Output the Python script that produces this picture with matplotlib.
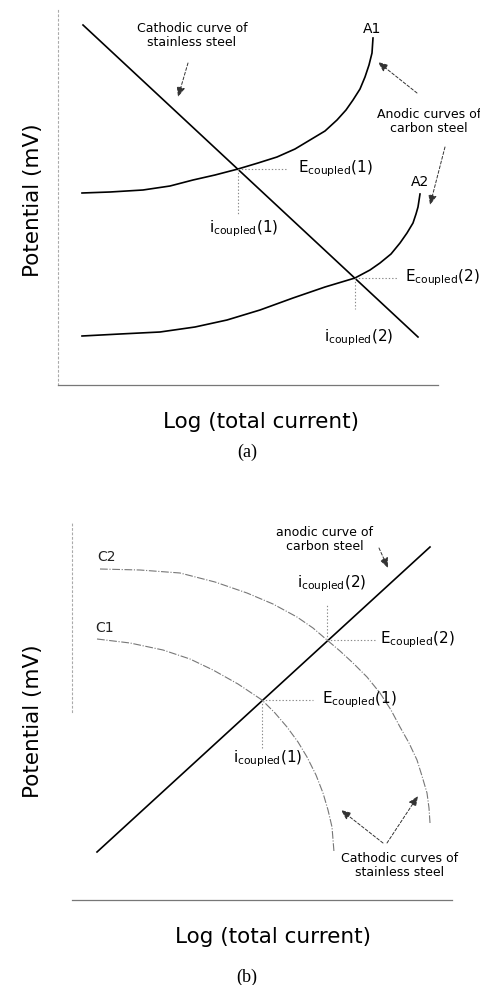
import matplotlib
matplotlib.use('Agg')
import matplotlib.pyplot as plt

# --- panel (a): anodic curves A1/A2 of carbon steel, cathodic line of stainless steel
cathode_a_x = [25, 360]
cathode_a_y = [360, 48]
a1_x = [24, 52, 85, 112, 135, 157, 180, 200, 219, 237, 252, 267, 279, 288, 295, 302, 307, 311, 314, 315]
a1_y = [192, 193, 195, 199, 205, 210, 216, 222, 228, 236, 245, 254, 265, 275, 285, 296, 308, 320, 332, 347]
a2_x = [24, 62, 102, 137, 169, 202, 235, 267, 297, 312, 322, 333, 342, 349, 355, 358, 360, 362]
a2_y = [49, 51, 53, 58, 65, 75, 87, 98, 107, 115, 122, 131, 142, 152, 162, 171, 178, 191]
coupled_a = [(180, 216), (297, 107)]   # (i, E) of the two couples

# --- panel (b): cathodic curves C1/C2 of stainless steel, anodic line of carbon steel
anode_b_x = [25, 358]
anode_b_y = [48, 353]
c2_x = [28, 68, 108, 143, 175, 201, 225, 241, 255, 268, 281, 295, 308, 319, 328, 337, 345, 350, 355, 357, 358]
c2_y = [331, 330, 327, 318, 307, 296, 283, 272, 260, 249, 237, 223, 207, 190, 173, 157, 140, 124, 107, 92, 77]
c1_x = [25, 58, 91, 118, 141, 166, 190, 203, 215, 226, 235, 244, 251, 256, 260, 262]
c1_y = [261, 257, 250, 241, 230, 216, 200, 187, 173, 158, 143, 125, 107, 90, 73, 48]
coupled_b = [(190, 200), (255, 260)]

plt.rcParams['font.family'] = ['DejaVu Sans']
plt.rcParams['mathtext.fontset'] = 'dejavusans'

W, H = 481, 985
fig = plt.figure(figsize=(W / 100, H / 100), dpi=100)

ax_a = fig.add_axes([58 / W, 1 - 385 / H, 380 / W, 377 / H])
ax_b = fig.add_axes([72 / W, 1 - 900 / H, 381 / W, 380 / H])
ax_a.set_xlim(0, 380)
ax_a.set_ylim(0, 377)
ax_b.set_xlim(0, 381)
ax_b.set_ylim(0, 380)

for ax in (ax_a, ax_b):
    ax.set_xticks([])
    ax.set_yticks([])
    ax.patch.set_alpha(0)
    for s in ('top', 'right'):
        ax.spines[s].set_visible(False)
    ax.spines['left'].set_linestyle((0, (1.5, 2.5)))
    ax.spines['left'].set_color('#aaaaaa')
    ax.spines['left'].set_linewidth(0.8)
    ax.spines['bottom'].set_linestyle((0, (4, 1)))
    ax.spines['bottom'].set_color('#777777')
    ax.spines['bottom'].set_linewidth(0.9)
ax_b.spines['left'].set_bounds(188, 378)

dot = dict(color='#888888', lw=0.8, linestyle=(0, (1.2, 1.8)))
arr = dict(arrowstyle='-|>,head_length=0.6,head_width=0.25', color='#333333',
           lw=0.7, linestyle=(0, (3, 2)), shrinkA=0, shrinkB=0)
small = 9
mid = 11


def ecoup(n):
    return r'E$_{\mathrm{coupled}}$(%d)' % n


def icoup(n):
    return r'i$_{\mathrm{coupled}}$(%d)' % n


# ---------------- panel (a)
ax_a.plot(cathode_a_x, cathode_a_y, color='black', lw=1.2)
ax_a.plot(a1_x, a1_y, color='black', lw=1.2)
ax_a.plot(a2_x, a2_y, color='black', lw=1.2)

(i1, e1), (i2, e2) = coupled_a
ax_a.plot([i1, 230], [e1, e1], **dot)
ax_a.plot([i1, i1], [e1, 170], **dot)
ax_a.plot([i2, 340], [e2, e2], **dot)
ax_a.plot([i2, i2], [e2, 76], **dot)

ax_a.text(240, e1, ecoup(1), fontsize=mid, va='center', ha='left')
ax_a.text(186, 156, icoup(1), fontsize=mid, va='center', ha='center')
ax_a.text(347, e2, ecoup(2), fontsize=mid, va='center', ha='left')
ax_a.text(301, 47, icoup(2), fontsize=mid, va='center', ha='center')

ax_a.text(314, 356, 'A1', fontsize=10, ha='center', va='center')
ax_a.text(362, 203, 'A2', fontsize=10, ha='center', va='center')

ax_a.text(134, 349, 'Cathodic curve of\nstainless steel', fontsize=small,
          ha='center', va='center', linespacing=1.1)
ax_a.annotate('', xy=(120, 288), xytext=(130, 322), arrowprops=arr)

ax_a.text(319, 263, 'Anodic curves of\ncarbon steel', fontsize=small,
          ha='left', va='center', linespacing=1.1, multialignment='center')
ax_a.annotate('', xy=(320, 323), xytext=(359, 292), arrowprops=arr)
ax_a.annotate('', xy=(372, 180), xytext=(387, 238), arrowprops=arr)

# ---------------- panel (b)
cath = dict(color='#777777', lw=0.8, linestyle=(0, (7, 1.5, 1, 1.5)))
ax_b.plot(anode_b_x, anode_b_y, color='black', lw=1.2)
ax_b.plot(c1_x, c1_y, **cath)
ax_b.plot(c2_x, c2_y, **cath)

(i1, e1), (i2, e2) = coupled_b
ax_b.plot([i1, 241], [e1, e1], **dot)
ax_b.plot([i1, i1], [e1, 152], **dot)
ax_b.plot([i2, 305], [e2, e2], **dot)
ax_b.plot([i2, i2], [e2, 295], **dot)

ax_b.text(250, e1, ecoup(1), fontsize=mid, va='center', ha='left')
ax_b.text(196, 141, icoup(1), fontsize=mid, va='center', ha='center')
ax_b.text(308, e2, ecoup(2), fontsize=mid, va='center', ha='left')
ax_b.text(260, 316, icoup(2), fontsize=mid, va='center', ha='center')

ax_b.text(35, 343, 'C2', fontsize=10, ha='center', va='center', color='#222222')
ax_b.text(33, 272, 'C1', fontsize=10, ha='center', va='center', color='#222222')

ax_b.text(253, 360, 'anodic curve of\ncarbon steel', fontsize=small,
          ha='center', va='center', linespacing=1.1)
ax_b.annotate('', xy=(316, 332), xytext=(307, 352), arrowprops=arr)

ax_b.text(328, 35, 'Cathodic curves of\nstainless steel', fontsize=small,
          ha='center', va='center', linespacing=1.1)
ax_b.annotate('', xy=(269, 90), xytext=(311, 57), arrowprops=arr)
ax_b.annotate('', xy=(346, 104), xytext=(315, 57), arrowprops=arr)

# ---------------- outer labels
fig.text(33 / W, 1 - 200 / H, 'Potential (mV)', rotation=90, fontsize=15.5,
         ha='center', va='center')
fig.text(261 / W, 1 - 422 / H, 'Log (total current)', fontsize=15.5,
         ha='center', va='center')
fig.text(247 / W, 1 - 452 / H, '(a)', fontsize=13, family='Liberation Serif',
         ha='center', va='center')

fig.text(33 / W, 1 - 721 / H, 'Potential (mV)', rotation=90, fontsize=15.5,
         ha='center', va='center')
fig.text(273 / W, 1 - 937 / H, 'Log (total current)', fontsize=15.5,
         ha='center', va='center')
fig.text(247 / W, 1 - 977 / H, '(b)', fontsize=13, family='Liberation Serif',
         ha='center', va='center')

fig.savefig('out.png', dpi=100)
